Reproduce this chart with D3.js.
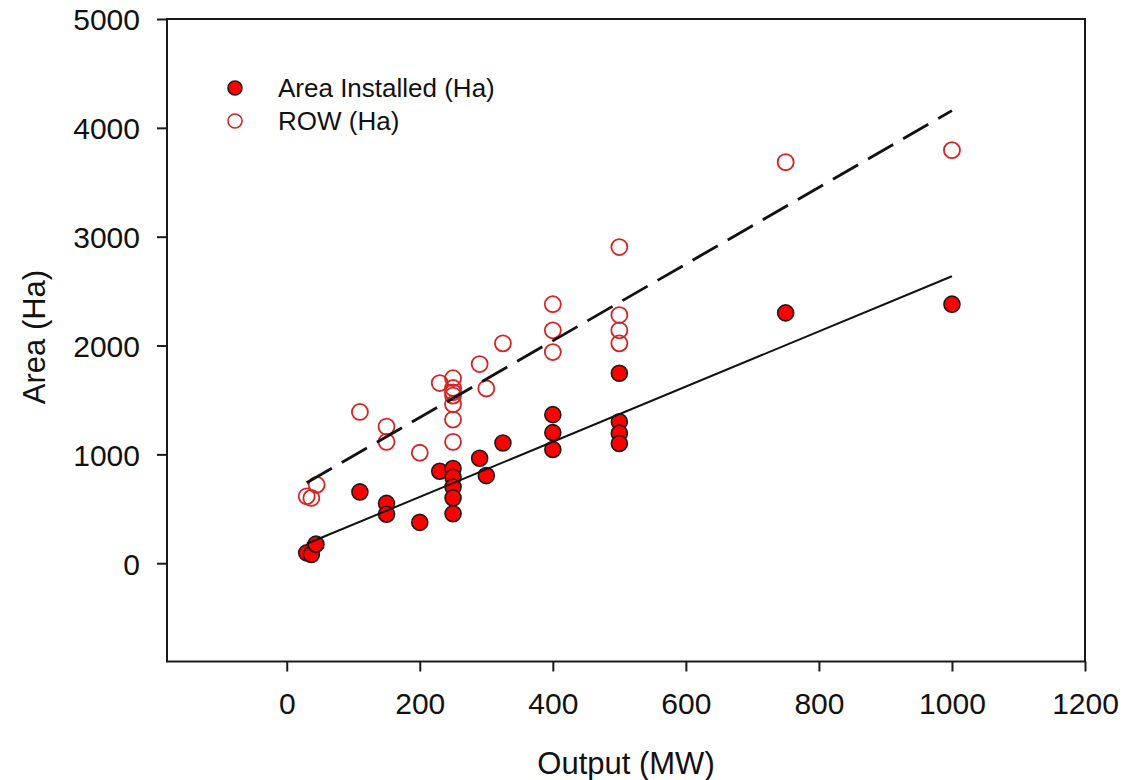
<!DOCTYPE html>
<html>
<head>
<meta charset="utf-8">
<script src="https://cdn.jsdelivr.net/npm/d3@7"></script>
<style>
  html, body { margin: 0; padding: 0; background: #fff; }
  svg { display: block; }
  text { font-family: "Liberation Sans", Arial, sans-serif; fill: #111; }
</style>
</head>
<body>
<svg id="chart" width="1146" height="780"></svg>
<script>
// ---- Data ----
const installedX = [30, 37, 44, 110, 150, 150, 200, 230, 250, 250, 250, 250, 250, 290, 300, 325, 400, 400, 400, 500, 500, 500, 500, 750, 1000];
const installedY = [95, 80, 175, 655, 550, 450, 375, 845, 870, 790, 700, 600, 455, 965, 805, 1105, 1365, 1200, 1045, 1745, 1300, 1195, 1100, 2300, 2380];

const rowX = [30, 37, 45, 110, 150, 150, 200, 230, 250, 250, 250, 250, 250, 250, 250, 290, 300, 325, 400, 400, 400, 500, 500, 500, 500, 750, 1000];
const rowY = [615, 600, 720, 1390, 1255, 1115, 1015, 1655, 1700, 1610, 1570, 1540, 1460, 1320, 1115, 1830, 1605, 2020, 2380, 2140, 1940, 2905, 2280, 2140, 2020, 3685, 3795];

// regression lines: [intercept, slope]
const fitInstalled = [102.5, 2.534];
const fitRow = [634, 3.524];

const xTicks = [0, 200, 400, 600, 800, 1000, 1200];
const yTicks = [0, 1000, 2000, 3000, 4000, 5000];
const xDomain = [-180, 1200];
const yDomain = [-903, 5000];

const legendLabels = ["Area Installed (Ha)", "ROW (Ha)"];
const xTitle = "Output (MW)";
const yTitle = "Area (Ha)";

// ---- Layout ----
const svg = d3.select("#chart");
const mLeft = 167, mRight = 1085, mTop = 19, mBottom = 661.5;

const x = d3.scaleLinear().domain(xDomain).range([mLeft, mRight]);
const y = d3.scaleLinear().domain(yDomain).range([mBottom, mTop]);

const axisColor = "#1a1a1a";

// frame
svg.append("rect")
  .attr("x", mLeft).attr("y", mTop)
  .attr("width", mRight - mLeft).attr("height", mBottom - mTop)
  .attr("fill", "none").attr("stroke", axisColor).attr("stroke-width", 2);

// axes
const xAxis = d3.axisBottom(x).tickValues(xTicks).tickSize(10).tickPadding(21).tickFormat(d3.format("d"));
const yAxis = d3.axisLeft(y).tickValues(yTicks).tickSize(10).tickPadding(17).tickFormat(d3.format("d"));

const gx = svg.append("g").attr("transform", `translate(0,${mBottom})`).call(xAxis);
const gy = svg.append("g").attr("transform", `translate(${mLeft},0)`).call(yAxis);

[gx, gy].forEach(g => {
  g.select(".domain").remove();
  g.selectAll(".tick line").attr("stroke", axisColor).attr("stroke-width", 2);
  g.selectAll(".tick text")
    .style("font-family", '"Liberation Sans", Arial, sans-serif')
    .style("font-size", "30px")
    .attr("fill", "#111");
});
gy.selectAll(".tick text").attr("dy", "0.36em");

// axis titles
svg.append("text")
  .attr("x", (mLeft + mRight) / 2).attr("y", 774)
  .attr("text-anchor", "middle")
  .style("font-size", "31px")
  .text(xTitle);

svg.append("text")
  .attr("transform", `translate(45,337) rotate(-90)`)
  .attr("text-anchor", "middle")
  .style("font-size", "31px")
  .text(yTitle);

// points
const installed = installedX.map((d, i) => ({ x: d, y: installedY[i] }));
const row = rowX.map((d, i) => ({ x: d, y: rowY[i] }));

svg.append("g").selectAll("circle").data(row).join("circle")
  .attr("cx", d => x(d.x)).attr("cy", d => y(d.y)).attr("r", 8)
  .attr("fill", "none").attr("stroke", "#d42424").attr("stroke-width", 1.8);

svg.append("g").selectAll("circle").data(installed).join("circle")
  .attr("cx", d => x(d.x)).attr("cy", d => y(d.y)).attr("r", 8)
  .attr("fill", "#ff0000").attr("stroke", "#1a1a1a").attr("stroke-width", 1.6);

// regression lines
const line = d3.line().x(d => x(d[0])).y(d => y(d[1]));
function fitPts(xs, fit) {
  const [lo, hi] = d3.extent(xs);
  return [[lo, fit[0] + fit[1] * lo], [hi, fit[0] + fit[1] * hi]];
}
svg.append("path")
  .attr("d", line(fitPts(installedX, fitInstalled)))
  .attr("fill", "none").attr("stroke", "#111").attr("stroke-width", 2);

svg.append("path")
  .attr("d", line(fitPts(rowX, fitRow)))
  .attr("fill", "none").attr("stroke", "#111").attr("stroke-width", 2.8)
  .attr("stroke-dasharray", "29,11.5");

// legend
const leg = svg.append("g");
leg.append("circle").attr("cx", 235).attr("cy", 88).attr("r", 7)
  .attr("fill", "#ff0000").attr("stroke", "#1a1a1a").attr("stroke-width", 1.6);
leg.append("circle").attr("cx", 235).attr("cy", 121).attr("r", 7)
  .attr("fill", "none").attr("stroke", "#d42424").attr("stroke-width", 1.6);
leg.append("text").attr("x", 278).attr("y", 97).style("font-size", "26px").text(legendLabels[0]);
leg.append("text").attr("x", 278).attr("y", 130).style("font-size", "26px").text(legendLabels[1]);
</script>
</body>
</html>
